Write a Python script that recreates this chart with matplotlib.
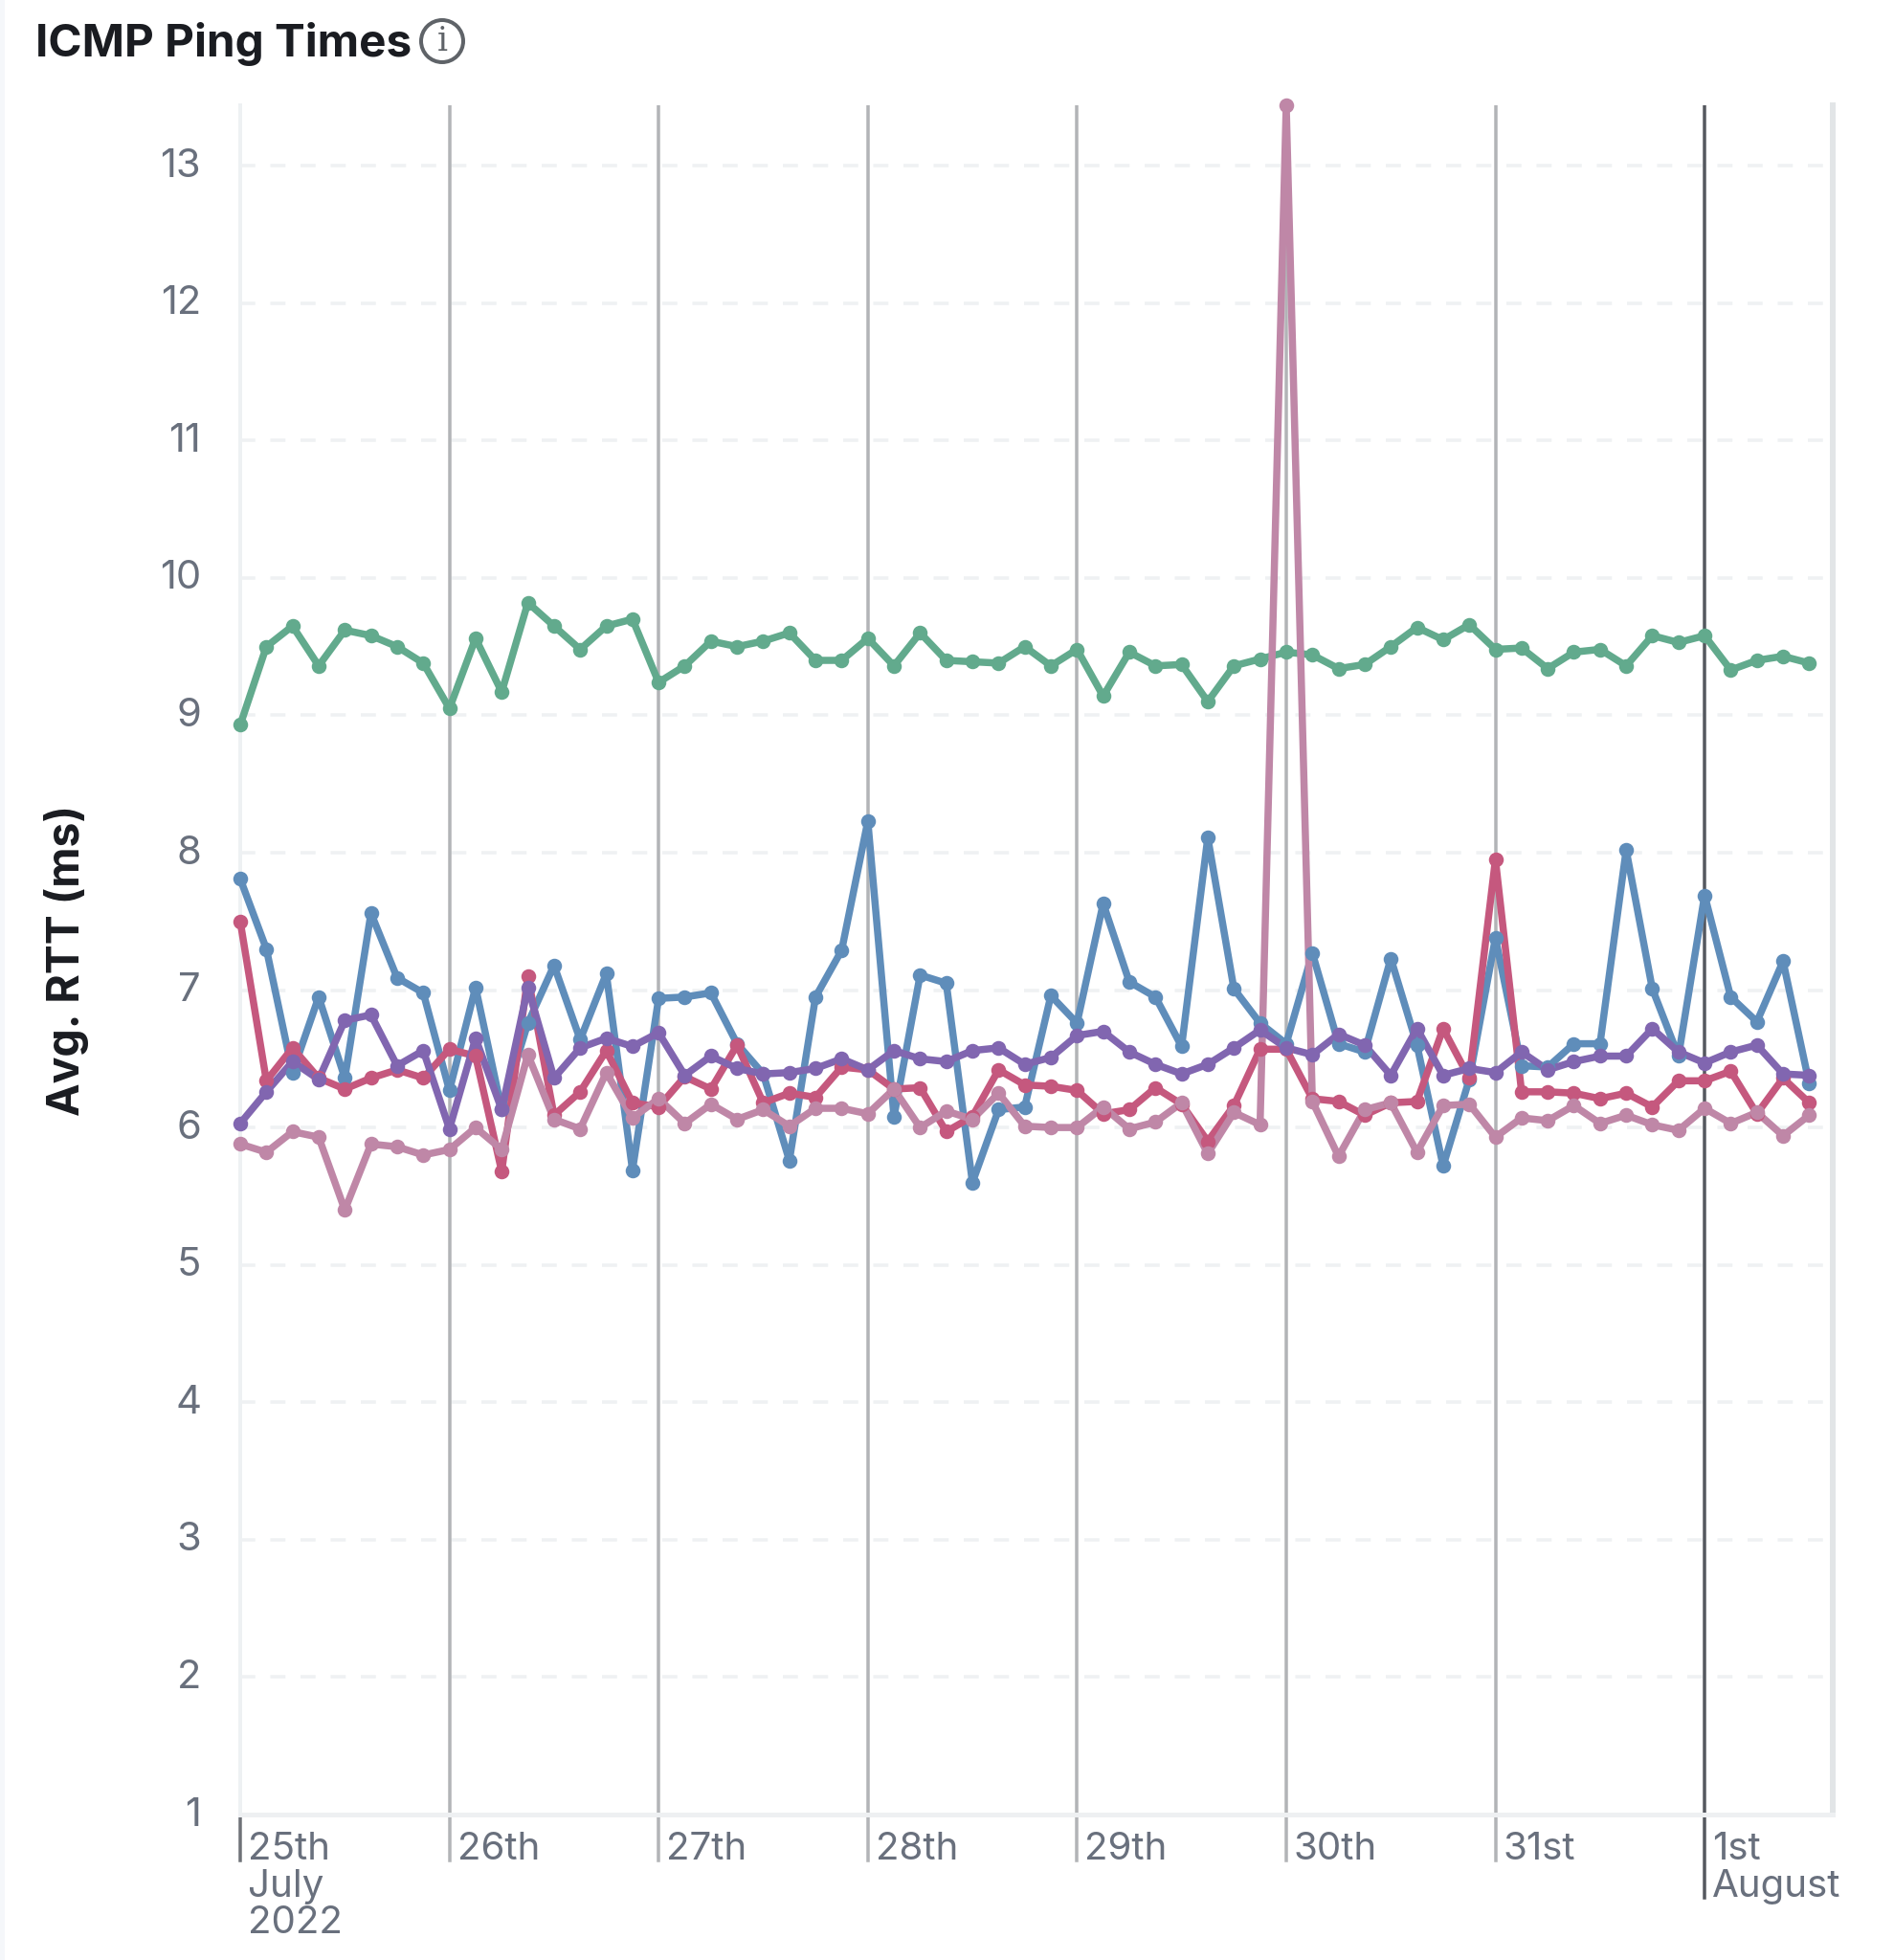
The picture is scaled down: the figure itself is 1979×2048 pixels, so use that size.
from __future__ import annotations

import matplotlib

matplotlib.use("Agg")

import matplotlib.pyplot as plt
import numpy as np
from matplotlib.patches import Circle, Rectangle
from matplotlib.transforms import IdentityTransform, ScaledTranslation


WIDTH, HEIGHT = 1979, 2048
AXES_LEFT, AXES_RIGHT, AXES_TOP, AXES_BOTTOM = 251, 1915, 110, 1896

TITLE = "ICMP Ping Times"
Y_LABEL = "Avg. RTT (ms)"
Y_TICKS = list(range(1, 14))
DAY_TICKS = [0, 8, 16, 24, 32, 40, 48, 56]
DAY_LABELS = ["25th\nJuly\n2022", "26th", "27th", "28th", "29th", "30th", "31st", "1st\nAugust"]

GREEN = [
    8.93, 9.50, 9.65, 9.36, 9.62, 9.58, 9.50, 9.38, 9.05, 9.56, 9.17, 9.82, 9.65, 9.48, 9.65, 9.70,
    9.24, 9.36, 9.54, 9.50, 9.54, 9.60, 9.40, 9.40, 9.56, 9.36, 9.60, 9.40, 9.39, 9.38, 9.50, 9.36,
    9.48, 9.14, 9.46, 9.36, 9.37, 9.10, 9.36, 9.41, 9.46, 9.44, 9.34, 9.37, 9.50, 9.64, 9.55, 9.66,
    9.48, 9.49, 9.34, 9.46, 9.48, 9.36, 9.58, 9.53, 9.58, 9.33, 9.40, 9.43, 9.38,
]
BLUE = [
    7.81, 7.30, 6.40, 6.95, 6.36, 7.56, 7.09, 6.98, 6.27, 7.02, 6.13, 6.76, 7.18, 6.64, 7.12, 5.69,
    6.94, 6.95, 6.98, 6.61, 6.39, 5.76, 6.95, 7.29, 8.23, 6.08, 7.11, 7.05, 5.60, 6.13, 6.15, 6.96,
    6.76, 7.63, 7.06, 6.95, 6.59, 8.11, 7.01, 6.76, 6.61, 7.27, 6.61, 6.55, 7.23, 6.60, 5.72, 6.35,
    7.38, 6.45, 6.44, 6.61, 6.61, 8.02, 7.01, 6.52, 7.69, 6.95, 6.77, 7.21, 6.32,
]
RED = [
    7.50, 6.34, 6.58, 6.36, 6.28, 6.36, 6.42, 6.36, 6.57, 6.52, 5.68, 7.10, 6.09, 6.26, 6.56, 6.18,
    6.15, 6.37, 6.28, 6.60, 6.18, 6.25, 6.22, 6.44, 6.42, 6.28, 6.29, 5.97, 6.08, 6.42, 6.31, 6.30,
    6.27, 6.10, 6.13, 6.29, 6.17, 5.90, 6.16, 6.57, 6.57, 6.21, 6.19, 6.09, 6.18, 6.19, 6.72, 6.36,
    7.95, 6.26, 6.26, 6.25, 6.21, 6.25, 6.15, 6.34, 6.34, 6.41, 6.10, 6.36, 6.18,
]
PINK = [
    5.88, 5.82, 5.97, 5.93, 5.40, 5.88, 5.86, 5.80, 5.84, 6.00, 5.84, 6.53, 6.06, 5.99, 6.40, 6.07,
    6.21, 6.03, 6.17, 6.06, 6.13, 6.01, 6.14, 6.14, 6.10, 6.28, 6.00, 6.12, 6.06, 6.25, 6.01, 6.00,
    6.00, 6.15, 5.99, 6.04, 6.18, 5.81, 6.11, 6.02, 13.44, 6.19, 5.79, 6.13, 6.18, 5.82, 6.16, 6.17,
    5.93, 6.07, 6.05, 6.16, 6.03, 6.09, 6.02, 5.98, 6.14, 6.03, 6.11, 5.94, 6.09,
]
PURPLE = [
    6.03, 6.26, 6.48, 6.35, 6.78, 6.82, 6.45, 6.56, 5.99, 6.65, 6.13, 7.02, 6.36, 6.58, 6.65, 6.59,
    6.69, 6.38, 6.52, 6.43, 6.39, 6.40, 6.43, 6.50, 6.42, 6.56, 6.50, 6.48, 6.56, 6.58, 6.46, 6.51,
    6.67, 6.70, 6.55, 6.46, 6.39, 6.46, 6.58, 6.71, 6.58, 6.53, 6.68, 6.60, 6.38, 6.72, 6.38, 6.43,
    6.40, 6.55, 6.42, 6.48, 6.52, 6.52, 6.72, 6.55, 6.47, 6.55, 6.60, 6.39, 6.38,
]

SERIES = [
    (GREEN, "#62aa8d"),
    (BLUE, "#5f8dba"),
    (RED, "#c5587e"),
    (PINK, "#bf87a7"),
    (PURPLE, "#8166b0"),
]


def px(value: float) -> float:
    return value * 72 / 100


def main() -> None:
    plt.rcParams["font.family"] = ["Inter", "DejaVu Sans"]

    fig = plt.figure(figsize=(WIDTH / 100, HEIGHT / 100), dpi=100, facecolor="white")
    ax = fig.add_axes(
        [
            AXES_LEFT / WIDTH,
            1 - AXES_BOTTOM / HEIGHT,
            (AXES_RIGHT - AXES_LEFT) / WIDTH,
            (AXES_BOTTOM - AXES_TOP) / HEIGHT,
        ]
    )
    ax.set_xlim(0, 60.9)
    ax.set_ylim(1, 13.44)

    # faint strip along the left edge of the screenshot
    fig.add_artist(Rectangle((0, 0), 5, HEIGHT, transform=IdentityTransform(), color="#f5f7fa", lw=0))

    ax.set_yticks(Y_TICKS)
    ax.grid(axis="y", color="#eff1f3", lw=px(3.5), dashes=(4.5, 4.5), zorder=0)
    ax.set_axisbelow(True)
    ax.tick_params(axis="y", length=0, pad=px(41), labelsize=30, labelcolor="#69707d")
    up = ScaledTranslation(0, px(3.5) / 72, fig.dpi_scale_trans)
    for label in ax.get_yticklabels():
        label.set_transform(label.get_transform() + up)

    ax.spines["top"].set_visible(False)
    ax.spines["left"].set(color="#eef1f3", lw=px(4))
    ax.spines["bottom"].set(color="#eef0f2", lw=px(5))
    ax.spines["right"].set(color="#e2e5e7", lw=px(6))

    # day separators, the first one sits on the axis and August is darker
    tick_transform = ax.get_xaxis_transform()
    for position in DAY_TICKS:
        color = "#b2b4b7"
        depth = -0.0269
        if position == 56:
            color = "#55585f"
            depth = -0.0487
        if position != 0:
            ax.plot([position, position], [0, 1], color=color, lw=px(3.5), transform=tick_transform, zorder=1.5)
        else:
            color = "#6f7278"
        ax.plot([position, position], [depth, -0.002], color=color, lw=px(3.5), transform=tick_transform, clip_on=False)

    ax.set_xticks(DAY_TICKS)
    ax.set_xticklabels(DAY_LABELS, ha="left", va="top", linespacing=1.06)
    ax.tick_params(axis="x", length=0, pad=px(18), labelsize=29, labelcolor="#69707d")
    offset = ScaledTranslation(px(8) / 72, 0, fig.dpi_scale_trans)
    for label in ax.get_xticklabels():
        label.set_transform(label.get_transform() + offset)

    x_values = np.arange(len(GREEN))
    for values, color in SERIES:
        ax.plot(x_values, values, color=color, lw=px(7.5), solid_joinstyle="round", clip_on=False, zorder=3)
    for values, color in SERIES:
        ax.plot(x_values, values, ls="none", marker="o", ms=px(15.5), mfc=color, mec=color, mew=0, clip_on=False, zorder=4)

    fig.text(37 / WIDTH, 1 - 59 / HEIGHT, TITLE, fontsize=34.3, fontweight="bold", color="#1a1c21", va="baseline")
    fig.text(
        70 / WIDTH, 1 - 1003 / HEIGHT, Y_LABEL,
        fontsize=33.4, fontweight="bold", color="#1a1c21", rotation=90, ha="center", va="center",
    )

    fig.add_artist(Circle((462, HEIGHT - 43), 22, transform=IdentityTransform(), fill=False, ec="#5f6368", lw=px(4)))
    fig.text(462 / WIDTH, 1 - 43 / HEIGHT, "i", family="DejaVu Serif", fontsize=25, color="#5f6368", ha="center", va="center")

    fig.savefig("out.png", dpi=100)
    plt.close(fig)


if __name__ == "__main__":
    main()
